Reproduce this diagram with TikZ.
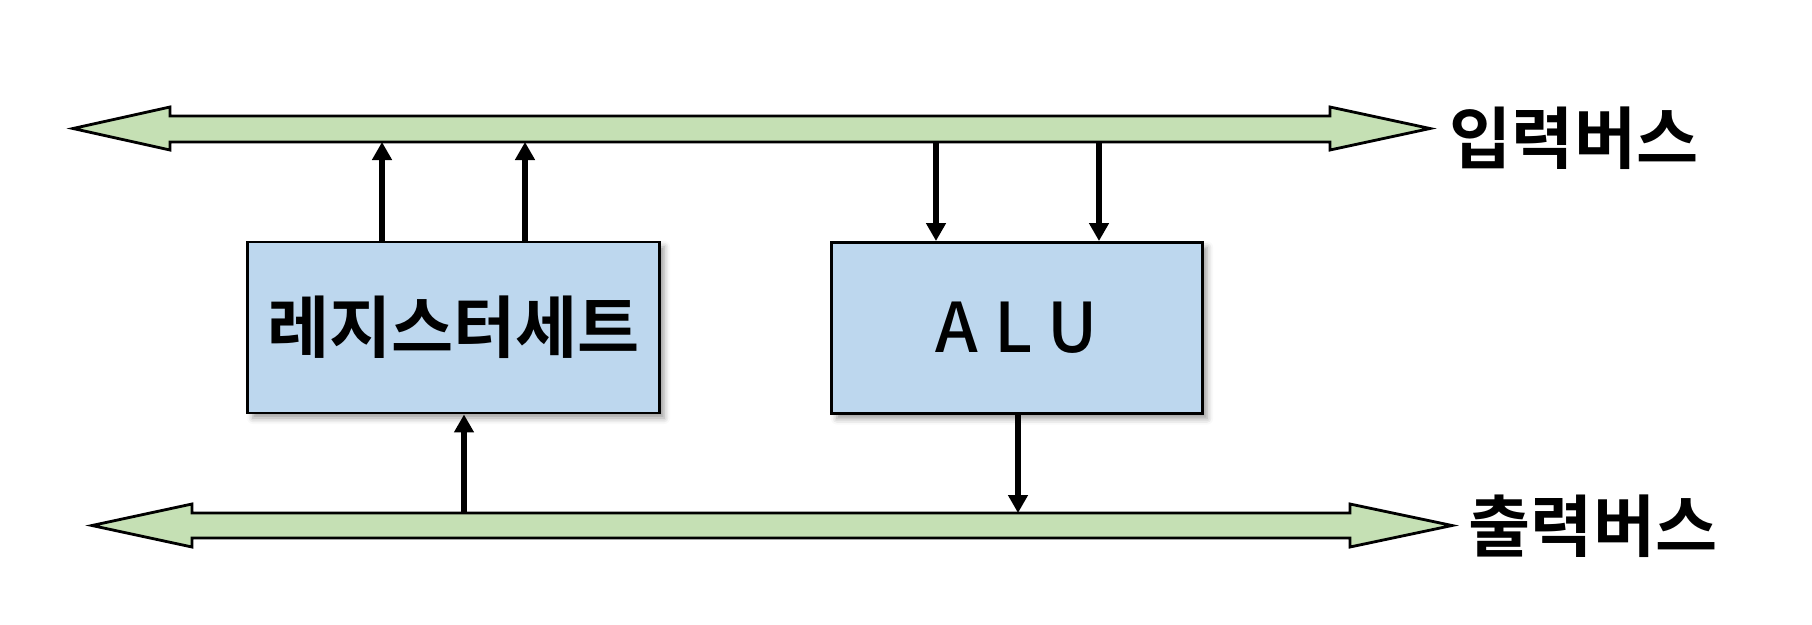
\documentclass[tikz,border=0pt]{standalone}
\usepackage{fontspec}
\newfontfamily\krfont{Noto Sans CJK KR}[UprightFont={* Medium}, BoldFont={* Bold}]
\usetikzlibrary{arrows.meta,shadows.blur}
\definecolor{boxblue}{HTML}{BDD7EE}
\definecolor{busgreen}{HTML}{C5E0B4}
\tikzset{
  unit/.style={draw=black, line width=0.8pt, fill=boxblue, inner sep=0pt,
    minimum width=#1, minimum height=1.71cm,
    blur shadow={shadow xshift=0.05cm, shadow yshift=-0.05cm, shadow blur radius=0.06cm, shadow opacity=40}},
  bus/.style={draw=black, line width=0.8pt, fill=busgreen},
  sig/.style={line width=0.065cm, -{Triangle[length=0.18cm,width=0.19cm]}},
  lbl/.style={inner sep=0pt, font={\krfont\bfseries\fontsize{19.2pt}{21pt}\selectfont}}
}
\begin{document}
\begin{tikzpicture}[x=0.01cm, y=-0.01cm]
  \useasboundingbox (0,0) rectangle (1812,624);
  % buses
  \draw[bus] (73,128.5) -- (170,107) -- (170,116) -- (1330,116) -- (1330,107)
    -- (1430,128.5) -- (1330,150) -- (1330,142) -- (170,142) -- (170,150) -- cycle;
  \draw[bus] (92,525.5) -- (192,504) -- (192,513) -- (1350,513) -- (1350,504)
    -- (1452,525.5) -- (1350,547) -- (1350,538) -- (192,538) -- (192,547) -- cycle;
  \node[lbl] (inlbl) at (1574,138) {입력버스};
  \node[lbl] (outlbl) at (1593,526) {출력버스};
  % units
  \node[unit=4.11cm, lbl] (reg) at (453.5,327.5) {레지스터세트};
  \node[unit=3.70cm, inner sep=0pt, font={\krfont\fontsize{19.5pt}{21pt}\selectfont}] (alu) at (1017,328) {A L U};
  % taps on the buses
  \coordinate (in1) at (382,142);
  \coordinate (in2) at (525,142);
  \coordinate (in3) at (936,142);
  \coordinate (in4) at (1099,142);
  \coordinate (out1) at (464,513);
  \coordinate (out2) at (1018,513);
  \draw[sig] (reg.north -| in1) -- (in1);
  \draw[sig] (reg.north -| in2) -- (in2);
  \draw[sig] (in3) -- (alu.north -| in3);
  \draw[sig] (in4) -- (alu.north -| in4);
  \draw[sig] (out1) -- (reg.south -| out1);
  \draw[sig] (alu.south -| out2) -- (out2);
\end{tikzpicture}
\end{document}
